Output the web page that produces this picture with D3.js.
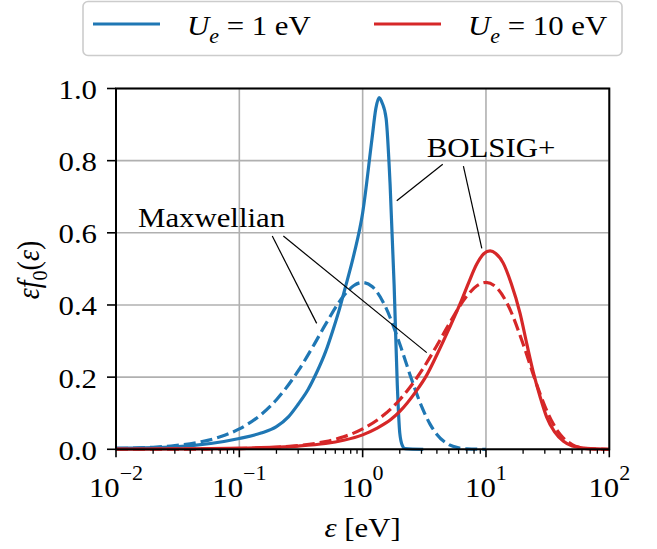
<!DOCTYPE html>
<html>
<head>
<meta charset="utf-8">
<script src="https://cdn.jsdelivr.net/npm/d3@7"></script>
<style>
	body { margin: 0; background: #ffffff; }
	svg { display: block; }
	svg text { font-family: "Liberation Serif", "Times New Roman", Tinos, "Nimbus Roman", Times, serif; fill: #000000; }
</style>
</head>
<body>
<svg id="chart" width="657" height="549"></svg>
<script>

// --- data ---
const aBlueMaxE = [0.01,0.02,0.03,0.05,0.07,0.1,0.15,0.2,0.3,0.4,0.5,0.7,0.85,1,1.2,1.5,2,2.5,3,3.5,4,5,6,7,10];
const aBlueMaxV = [0.0020,0.0057,0.0103,0.0215,0.0346,0.0564,0.0962,0.1374,0.2172,0.2878,0.3462,0.4248,0.4539,0.4625,0.4504,0.4014,0.2919,0.1927,0.1197,0.0712,0.0411,0.0128,0.0038,0.0011,0.0000];

const aRedMaxE = [0.01,0.02,0.05,0.1,0.2,0.3,0.5,0.7,1,1.5,2,3,4,5,7,8.5,10,12,15,20,25,30,35,40,50,60,70,100];
const aRedMaxV = [0.0001,0.0002,0.0007,0.0020,0.0057,0.0103,0.0215,0.0346,0.0564,0.0962,0.1374,0.2172,0.2878,0.3462,0.4248,0.4539,0.4625,0.4504,0.4014,0.2919,0.1927,0.1197,0.0712,0.0411,0.0128,0.0038,0.0011,0.0000];

const aBlueBolE = [0.01,0.03,0.1,0.15,0.2,0.25,0.3,0.36,0.42,0.5,0.58,0.65,0.72,0.85,1.0,1.19,1.28,1.36,1.44,1.55,1.67,1.8,1.91,2.0,2.1,2.2,3.1];
const aBlueBolV = [0.003,0.007,0.030,0.045,0.063,0.090,0.125,0.165,0.210,0.270,0.335,0.390,0.446,0.540,0.655,0.860,0.945,0.975,0.960,0.917,0.733,0.455,0.178,0.045,0.010,0.002,0.000];

const aRedBolE = [0.01,0.03,0.1,0.2,0.3,0.5,0.7,1.0,1.3,1.7,2.0,2.7,3.3,4.0,5.0,6.2,7.2,8.4,9.6,10.8,12.0,13.8,16,18.9,21.5,24.3,27.5,31,36,42.5,50,65,80,100];
const aRedBolV = [0.0003,0.001,0.003,0.006,0.009,0.016,0.025,0.040,0.058,0.083,0.105,0.160,0.205,0.262,0.333,0.405,0.460,0.513,0.542,0.550,0.543,0.516,0.460,0.377,0.290,0.211,0.145,0.090,0.048,0.022,0.009,0.003,0.001,0.000];

const aLegendBase = ['1 eV', '10 eV'];
const aXTickExp = ['\u22122', '\u22121', '0', '1', '2'];
const aYTicks = [0.0, 0.2, 0.4, 0.6, 0.8, 1.0];

// annotation anchors in data coordinates [eps, value]
const aMaxwText = [0.01508, 0.616];
const aMaxwFrom = [[0.185, 0.591], [0.2275, 0.591]];
const aMaxwTo = [[0.424, 0.349], [3.31, 0.268]];
const aBolText = [3.31, 0.809];
const aBolFrom = [[4.46, 0.790], [6.56, 0.785]];
const aBolTo = [[1.89, 0.689], [9.25, 0.557]];

// ---------------------------------

const strBlue = '#1f77b4';
const strRed = '#d62728';
const strFontFamily = '"Liberation Serif", "Times New Roman", Tinos, "Nimbus Roman", Times, serif';
const nFont = 28;
const fStretch = 1.1;

var sSvg = d3.select('#chart')
	.attr('font-family', strFontFamily);

var nSvgWidth = 657;
var nSvgHeight = 549;

var nBorderLeft = 116;
var nBorderRight = 47.7;
var nBorderTop = 88.5;
var nBorderBottom = 99.7;

var nChartWidth = nSvgWidth - nBorderLeft - nBorderRight;
var nChartHeight = nSvgHeight - nBorderTop - nBorderBottom;

var scaleX = d3.scaleLog()
	.domain([0.01, 100])
	.range([0, nChartWidth]);

var scaleY = d3.scaleLinear()
	.domain([0, 1])
	.range([nChartHeight, 0]);

function Stretch(nX, nY)
{
	return 'translate(' + nX + ',' + nY + ') scale(' + fStretch + ',1)';
}

function Zip(aE, aV)
{
	return aE.map(function(fE, i)
		{
			return [fE, aV[i]];
		});
}

var sChart = sSvg.append('g')
	.attr('transform', 'translate(' + nBorderLeft + ',' + nBorderTop + ')');

sSvg.append('defs')
	.append('clipPath')
		.attr('id', 'plotclip')
	.append('rect')
		.attr('x', -2)
		.attr('y', -4)
		.attr('width', nChartWidth + 4)
		.attr('height', nChartHeight + 6);

// grid
var aXMajor = [0.01, 0.1, 1, 10, 100];

sChart.append('g')
	.selectAll('line')
	.data(aXMajor)
	.enter()
		.append('line')
			.attr('x1', function(d) { return scaleX(d); })
			.attr('x2', function(d) { return scaleX(d); })
			.attr('y1', 0)
			.attr('y2', nChartHeight)
			.attr('stroke', '#b0b0b0')
			.attr('stroke-width', 1.6);

sChart.append('g')
	.selectAll('line')
	.data(aYTicks)
	.enter()
		.append('line')
			.attr('x1', 0)
			.attr('x2', nChartWidth)
			.attr('y1', function(d) { return scaleY(d); })
			.attr('y2', function(d) { return scaleY(d); })
			.attr('stroke', '#b0b0b0')
			.attr('stroke-width', 1.6);

// curves
var fnLine = d3.line()
	.x(function(p) { return scaleX(p[0]); })
	.y(function(p) { return scaleY(p[1]); })
	.curve(d3.curveMonotoneX);

var sCurves = sChart.append('g')
	.attr('clip-path', 'url(#plotclip)');

var aCurves = [
	{ pts: Zip(aBlueBolE, aBlueBolV), color: strBlue, dash: null },
	{ pts: Zip(aBlueMaxE, aBlueMaxV), color: strBlue, dash: '12,5' },
	{ pts: Zip(aRedBolE, aRedBolV), color: strRed, dash: null },
	{ pts: Zip(aRedMaxE, aRedMaxV), color: strRed, dash: '12,5' }
];

aCurves.forEach(function(c)
	{
		sCurves.append('path')
			.attr('d', fnLine(c.pts))
			.attr('fill', 'none')
			.attr('stroke', c.color)
			.attr('stroke-width', 3.2)
			.attr('stroke-dasharray', c.dash);
	});

// annotations
function DrawAnnotation(aText, aFrom, aTo, strLabel)
{
	for (var i = 0; i < aFrom.length; i++)
	{
		sChart.append('line')
			.attr('x1', scaleX(aFrom[i][0]))
			.attr('y1', scaleY(aFrom[i][1]))
			.attr('x2', scaleX(aTo[i][0]))
			.attr('y2', scaleY(aTo[i][1]))
			.attr('stroke', '#000000')
			.attr('stroke-width', 1.2);
	}
	sChart.append('text')
		.attr('transform', Stretch(scaleX(aText[0]), scaleY(aText[1])))
		.style('font-size', nFont + 'px')
		.text(strLabel);
}

DrawAnnotation(aMaxwText, aMaxwFrom, aMaxwTo, 'Maxwellian');
DrawAnnotation(aBolText, aBolFrom, aBolTo, 'BOLSIG+');

// ticks
var aXMinor = [];
for (var nDec = -2; nDec < 2; nDec++)
{
	for (var k = 2; k <= 9; k++)
	{
		aXMinor.push(k * Math.pow(10, nDec));
	}
}

sChart.append('g')
	.selectAll('line')
	.data(aXMinor)
	.enter()
		.append('line')
			.attr('x1', function(d) { return scaleX(d); })
			.attr('x2', function(d) { return scaleX(d); })
			.attr('y1', nChartHeight)
			.attr('y2', nChartHeight + 4.5)
			.attr('stroke', '#000000')
			.attr('stroke-width', 1.3);

sChart.append('g')
	.selectAll('line')
	.data(aXMajor)
	.enter()
		.append('line')
			.attr('x1', function(d) { return scaleX(d); })
			.attr('x2', function(d) { return scaleX(d); })
			.attr('y1', nChartHeight)
			.attr('y2', nChartHeight + 8)
			.attr('stroke', '#000000')
			.attr('stroke-width', 1.6);

sChart.append('g')
	.selectAll('line')
	.data(aYTicks)
	.enter()
		.append('line')
			.attr('x1', -9)
			.attr('x2', 0)
			.attr('y1', function(d) { return scaleY(d); })
			.attr('y2', function(d) { return scaleY(d); })
			.attr('stroke', '#000000')
			.attr('stroke-width', 1.6);

// tick labels
var sXLabels = sChart.append('g')
	.selectAll('text')
	.data(aXMajor)
	.enter()
		.append('text')
			.attr('transform', function(d) { return Stretch(scaleX(d), nChartHeight + 48); })
			.attr('text-anchor', 'middle')
			.style('font-size', nFont + 'px');

sXLabels.append('tspan')
	.text('10');
sXLabels.append('tspan')
	.attr('dy', -17)
	.style('font-size', '20px')
	.text(function(d, i) { return aXTickExp[i]; });

sChart.append('g')
	.selectAll('text')
	.data(aYTicks)
	.enter()
		.append('text')
			.attr('transform', function(d) { return Stretch(-19, scaleY(d) + 10.5); })
			.attr('text-anchor', 'end')
			.style('font-size', nFont + 'px')
			.text(function(d) { return d3.format('.1f')(d); });

// spines
sChart.append('rect')
	.attr('x', 0)
	.attr('y', 0)
	.attr('width', nChartWidth)
	.attr('height', nChartHeight)
	.attr('fill', 'none')
	.attr('stroke', '#000000')
	.attr('stroke-width', 2);

// axis titles
var sXTitle = sSvg.append('text')
	.attr('transform', Stretch(nBorderLeft + nChartWidth / 2, 536.5))
	.attr('text-anchor', 'middle')
	.style('font-size', nFont + 'px');
sXTitle.append('tspan').style('font-style', 'italic').text('\u03b5');
sXTitle.append('tspan').text(' [eV]');

var sYTitle = sSvg.append('text')
	.attr('transform', 'translate(39,270) rotate(-90) scale(1,' + fStretch + ')')
	.attr('text-anchor', 'middle')
	.style('font-size', nFont + 'px');
sYTitle.append('tspan').style('font-style', 'italic').text('\u03b5f');
sYTitle.append('tspan').attr('dy', 7).style('font-size', '20px').text('0');
sYTitle.append('tspan').attr('dy', -7).text('(');
sYTitle.append('tspan').style('font-style', 'italic').text('\u03b5');
sYTitle.append('tspan').text(')');

// legend
var sLegend = sSvg.append('g');

sLegend.append('rect')
	.attr('x', 83)
	.attr('y', 1.5)
	.attr('width', 539)
	.attr('height', 54)
	.attr('rx', 5)
	.attr('fill', '#ffffff')
	.attr('fill-opacity', 0.8)
	.attr('stroke', '#cccccc')
	.attr('stroke-width', 1.6);

var aLegendColor = [strBlue, strRed];
var aLegendX = [93, 374];

aLegendBase.forEach(function(strBase, i)
	{
		sLegend.append('line')
			.attr('x1', aLegendX[i])
			.attr('x2', aLegendX[i] + 67)
			.attr('y1', 24)
			.attr('y2', 24)
			.attr('stroke', aLegendColor[i])
			.attr('stroke-width', 3.2);

		var sT = sLegend.append('text')
			.attr('transform', Stretch(aLegendX[i] + 94, 35))
			.style('font-size', nFont + 'px');
		sT.append('tspan').style('font-style', 'italic').text('U');
		sT.append('tspan').attr('dy', 8).style('font-style', 'italic').style('font-size', '20px').text('e');
		sT.append('tspan').attr('dy', -8).text(' = ' + strBase);
	});

</script>
</body>
</html>
